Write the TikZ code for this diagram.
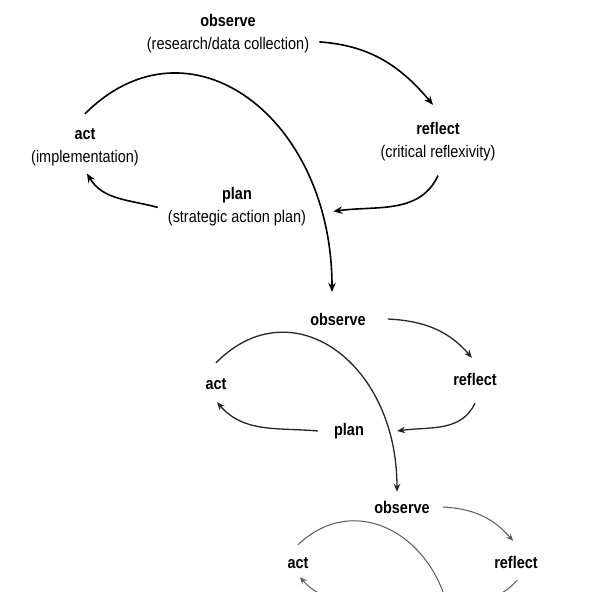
\documentclass[tikz,border=0pt]{standalone}
\usepackage{fontspec}
\setmainfont{Liberation Sans}[FakeStretch=0.86]
\usetikzlibrary{arrows.meta,positioning}
\newcommand\cyclefont{\fontsize{16.8}{19}\selectfont}
\tikzset{
  stage/.style={font=\cyclefont\bfseries, inner sep=2pt, text height=13pt, text depth=0pt},
  gloss/.style={font=\cyclefont, inner sep=2pt, text height=13pt, text depth=0pt},
  loopA/.style={line width=1.6pt, -{Stealth[length=9pt,width=7.5pt,inset=3pt]}},
  loopB/.style={line width=1.3pt, black!85, -{Stealth[length=8pt,width=6.5pt,inset=2.5pt]}},
  loopC/.style={line width=1pt, black!65, -{Stealth[length=7pt,width=6pt,inset=2.5pt]}},
}
\begin{document}
\begin{tikzpicture}[x=1pt,y=1pt]
	\useasboundingbox (0,0) rectangle (592,592);
	\clip (0,0) rectangle (592,592);
	
	%%%%% first cycle %%%%%
	\node[stage] (obs1) at (228,572) {observe};
	\node[gloss, below=5.5pt of obs1] (obs1sub) {(research/data collection)};
	\node[stage] (act1) at (85,459) {act};
	\node[gloss, below=5.5pt of act1] (act1sub) {(implementation)};
	\node[stage] (refl1) at (438,464) {reflect};
	\node[gloss, below=5.5pt of refl1] (refl1sub) {(critical reflexivity)};
	\node[stage] (plan1) at (237,399) {plan};
	\node[gloss, below=5.5pt of plan1] (plan1sub) {(strategic action plan)};
	
	%%%%% second cycle %%%%%
	\node[stage] (obs2) at (338,273) {observe};
	\node[stage] (act2) at (216,209) {act};
	\node[stage] (refl2) at (475,213) {reflect};
	\node[stage] (plan2) at (349,163) {plan};
	
	%%%%% third cycle %%%%%
	\node[stage] (obs3) at (402,85) {observe};
	\node[stage] (act3) at (298,30) {act};
	\node[stage] (refl3) at (516,30) {reflect};
	\coordinate (plan3) at (418,-14);
	\coordinate (obs4) at (452,-55);
	
	\draw[loopA] ([xshift=8pt,yshift=1pt]obs1sub.east) to[out=-4,in=130] ([xshift=-5pt,yshift=14.5pt]refl1.north);
	\draw[loopA] ([yshift=-16pt]refl1sub.south) to[out=-115,in=8] ([xshift=25pt,yshift=4.5pt]plan1sub.east);
	\draw[loopA] ([xshift=-8pt,yshift=8.5pt]plan1sub.west) to[out=165,in=-59] ([xshift=2pt,yshift=-9pt]act1sub.south);
	\draw[loopA] ([yshift=10.5pt]act1.north) .. controls +(45:146) and +(90:176) .. ([xshift=-6pt,yshift=18.5pt]obs2.north);
	
	\draw[loopB] ([xshift=20pt]obs2.east) to[out=-3,in=131] ([xshift=-3pt,yshift=12.5pt]refl2.north);
	\draw[loopB] ([yshift=-15.5pt]refl2.south) to[out=-115,in=8] ([xshift=31pt,yshift=-2pt]plan2.east);
	\draw[loopB] ([xshift=-14pt,yshift=-2pt]plan2.west) to[out=175,in=-49] ([xshift=1pt,yshift=-10.5pt]act2.south);
	\draw[loopB] ([yshift=11.5pt]act2.north) .. controls +(45.4:107) and +(90:130) .. ([xshift=-5pt,yshift=6.5pt]obs3.north);
	
	\draw[loopC] ([xshift=11pt]obs3.east) to[out=-3,in=131] ([xshift=-3pt,yshift=12.5pt]refl3.north);
	\draw[loopC] ([xshift=1pt,yshift=-9.5pt]refl3.south) to[out=-130,in=10] ([xshift=33pt,yshift=2pt]plan3);
	\draw[loopC] ([xshift=-34pt,yshift=2pt]plan3) to[out=175,in=-49] ([xshift=2pt,yshift=-6.5pt]act3.south);
	\draw[loopC] ([yshift=8.5pt]act3.north) .. controls +(43.7:87) and +(90:102) .. (obs4);
\end{tikzpicture}
\end{document}
